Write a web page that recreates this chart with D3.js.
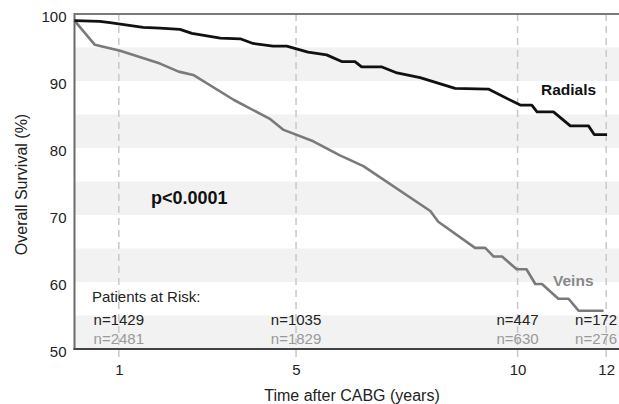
<!DOCTYPE html>
<html lang="en">
<head>
    <meta charset="UTF-8">
    <title>Overall Survival</title>
    <script src="https://cdn.jsdelivr.net/npm/d3@7/dist/d3.min.js"></script>
    <style>
        body { margin: 0; background: #fff; }
        svg text { font-family: "Liberation Sans", Arial, sans-serif; }
    </style>
</head>
<body>
<svg id="main" width="619" height="404"></svg>
<script>
    // values
    const radialsT = [0, 0.57, 0.8, 1.55, 1.93, 2.38, 2.65, 3.29, 3.74, 4.03, 4.48, 4.79, 5.27, 5.69, 6.03, 6.33,
        6.48, 6.94, 7.28, 7.80, 8.59, 9.34, 10.06, 10.32, 10.44, 10.81, 11.19, 11.60, 11.73, 12.02];
    const radialsS = [99.0, 98.9, 98.7, 98.0, 97.9, 97.7, 97.1, 96.4, 96.3, 95.6, 95.2, 95.2, 94.3, 93.9, 92.9, 92.9,
        92.1, 92.1, 91.2, 90.5, 88.9, 88.8, 86.4, 86.4, 85.4, 85.4, 83.3, 83.3, 82.0, 82.0];

    const veinsT = [0, 0.46, 1.03, 1.93, 2.35, 2.68, 3.59, 4.42, 4.72, 5.39, 5.99, 6.52, 8.03, 8.21, 9.04, 9.27,
        9.46, 9.65, 9.98, 10.2, 10.4, 10.55, 10.92, 11.15, 11.38, 11.94];
    const veinsS = [99.0, 95.4, 94.5, 92.6, 91.4, 90.9, 87.2, 84.3, 82.7, 81.0, 78.9, 77.3, 70.6, 69.0, 65.1, 65.1,
        63.8, 63.8, 61.9, 61.9, 59.7, 59.7, 57.5, 57.5, 55.7, 55.7];

    const xTicks = [1, 5, 10, 12];
    const yTicks = [50, 60, 70, 80, 90, 100];
    const bandStarts = [50, 60, 70, 80, 90];

    const riskYears = [1, 5, 10, 12];
    const radialsRisk = [1429, 1035, 447, 172];
    const veinsRisk = [2481, 1829, 630, 276];

    let svg = d3.select('svg#main');
    let plotLeft = 74.5, plotTop = 14, plotBottom = 349, plotRight = 619.5;

    let x = d3.scaleLinear().domain([0, 12.3]).range([plotLeft, plotRight]);
    let y = d3.scaleLinear().domain([50, 100]).range([plotBottom, plotTop]);

    // grey bands
    svg.selectAll('rect.band').data(bandStarts)
        .enter().append('rect')
        .attr('class', 'band')
        .attr('x', plotLeft)
        .attr('width', plotRight - plotLeft)
        .attr('y', d => y(d + 5))
        .attr('height', d => y(d) - y(d + 5))
        .attr('fill', '#f2f2f2');

    // dashed year lines
    svg.selectAll('line.grid').data(xTicks)
        .enter().append('line')
        .attr('class', 'grid')
        .attr('x1', d => x(d)).attr('x2', d => x(d))
        .attr('y1', plotTop).attr('y2', plotBottom + 8)
        .attr('stroke', '#c8c8c8')
        .attr('stroke-width', 1.5)
        .attr('stroke-dasharray', '7,5');

    // frame lines
    svg.append('line').attr('x1', plotLeft).attr('x2', plotRight).attr('y1', plotTop).attr('y2', plotTop)
        .attr('stroke', '#7a7a7a').attr('stroke-width', 2);
    svg.append('line').attr('x1', plotLeft).attr('x2', plotLeft).attr('y1', plotTop - 1).attr('y2', plotBottom + 1)
        .attr('stroke', '#6a6a6a').attr('stroke-width', 2);
    svg.append('line').attr('x1', plotLeft - 1).attr('x2', plotRight).attr('y1', plotBottom).attr('y2', plotBottom)
        .attr('stroke', '#444').attr('stroke-width', 2);

    // axes
    let yAxis = svg.append('g')
        .attr('transform', 'translate(' + plotLeft + ',0)')
        .call(d3.axisLeft(y).tickValues(yTicks).tickSize(0).tickPadding(8));
    yAxis.select('.domain').remove();
    yAxis.selectAll('text').attr('dy', '0.52em').style('font-size', '15px').attr('fill', '#222');

    let xAxis = svg.append('g')
        .attr('transform', 'translate(0,' + plotBottom + ')')
        .call(d3.axisBottom(x).tickValues(xTicks).tickSize(0).tickPadding(15));
    xAxis.select('.domain').remove();
    xAxis.selectAll('text').style('font-size', '15px').attr('fill', '#222');

    svg.append('text')
        .attr('transform', 'translate(21,' + ((plotTop + plotBottom) / 2 + 3) + ') rotate(-90)')
        .attr('text-anchor', 'middle')
        .attr('dy', '0.35em')
        .style('font-size', '16px')
        .attr('fill', '#222')
        .text('Overall Survival (%)');

    svg.append('text')
        .attr('x', (plotLeft + plotRight) / 2 + 5)
        .attr('y', 395)
        .attr('dy', '0.35em')
        .attr('text-anchor', 'middle')
        .style('font-size', '16px')
        .attr('fill', '#222')
        .text('Time after CABG (years)');

    // survival curves
    let line = d3.line()
        .x(d => x(d[0]))
        .y(d => y(d[1]));

    svg.append('path')
        .datum(veinsT.map((t, i) => [t, veinsS[i]]))
        .attr('d', line)
        .attr('fill', 'none')
        .attr('stroke', '#7a7a7a')
        .attr('stroke-width', 2.6)
        .attr('stroke-linejoin', 'round');

    svg.append('path')
        .datum(radialsT.map((t, i) => [t, radialsS[i]]))
        .attr('d', line)
        .attr('fill', 'none')
        .attr('stroke', '#111')
        .attr('stroke-width', 2.8)
        .attr('stroke-linejoin', 'round');

    // labels
    svg.append('text').attr('x', 541).attr('y', 90).attr('dy', '0.35em')
        .style('font-size', '15.5px').style('font-weight', 'bold').attr('fill', '#111')
        .text('Radials');
    svg.append('text').attr('x', 553).attr('y', 281).attr('dy', '0.35em')
        .style('font-size', '15.5px').style('font-weight', 'bold').attr('fill', '#888')
        .text('Veins');
    svg.append('text').attr('x', 151).attr('y', 198).attr('dy', '0.35em')
        .style('font-size', '18px').style('font-weight', 'bold').attr('fill', '#111')
        .text('p<0.0001');

    // patients at risk
    svg.append('text').attr('x', 92).attr('y', 297).attr('dy', '0.35em')
        .style('font-size', '15px').attr('fill', '#222')
        .text('Patients at Risk:');

    let riskX = (d, i) => i === riskYears.length - 1 ? x(d) + 11 : x(d);
    let riskAnchor = (d, i) => i === riskYears.length - 1 ? 'end' : 'middle';

    svg.selectAll('text.riskR').data(riskYears)
        .enter().append('text')
        .attr('class', 'riskR')
        .attr('x', riskX)
        .attr('y', 320).attr('dy', '0.35em')
        .attr('text-anchor', riskAnchor)
        .style('font-size', '15px').attr('fill', '#222')
        .text((d, i) => 'n=' + radialsRisk[i]);

    svg.selectAll('text.riskV').data(riskYears)
        .enter().append('text')
        .attr('class', 'riskV')
        .attr('x', riskX)
        .attr('y', 339).attr('dy', '0.35em')
        .attr('text-anchor', riskAnchor)
        .style('font-size', '15px').attr('fill', '#999')
        .text((d, i) => 'n=' + veinsRisk[i]);
</script>
</body>
</html>
